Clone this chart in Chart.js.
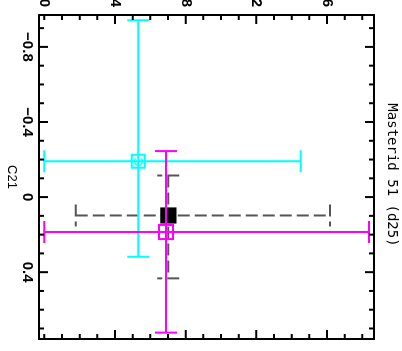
<!DOCTYPE html>
<html>
<head>
<meta charset="utf-8">
<title>Masterid 51 (d25)</title>
<script src="https://cdn.jsdelivr.net/npm/chart.js@4"></script>
<style>
    html, body { margin: 0; padding: 0; background: #fff; overflow: hidden; }
    /* the plot is drawn upright, then turned a quarter clockwise like the reference */
    #wrap {
        position: absolute; left: 0; top: 0; width: 351px; height: 402px;
        transform-origin: 0 0; transform: translate(402px, 0) rotate(90deg);
    }
</style>
</head>
<body>
<div id="wrap"><canvas id="chart" width="351" height="402"></canvas></div>
<script>
(function() {
    'use strict';

    // series: black, cyan, magenta
    const seriesNames = ['black', 'cyan', 'magenta'];
    const c21Values = [0.098, -0.191, 0.186];
    const c21Low = [-0.115, -0.942, -0.245];
    const c21High = [0.433, 0.318, 0.722];
    const yValues = [7.02, 5.32, 6.89];
    const yLow = [1.78, 0.0, 0.0];
    const yHigh = [16.17, 14.52, 18.37];

    const c21Ticks = [-0.8, -0.4, 0, 0.4];
    const yTicks = [0, 4, 8, 12, 16];

    const titleText = 'Masterid 51 (d25)';
    const xTitle = 'C21';

    // styles
    const markColors = ['#000000', '#00ffff', '#ff00ff'];
    const barColors = ['#555555', '#00ffff', '#ff00ff'];
    const barDashes = [[12, 5], [], []];
    const CAP = 11;
    const tickFont = { family: 'Liberation Sans', size: 15, weight: 'bold' };

    function formatC21(v) {
        if (Math.abs(v) < 1e-9) {
            return '0';
        }
        return (v < 0 ? '\u2212' : '') + Math.abs(v).toFixed(1);
    }

    function cyanMarker() {
        const c = document.createElement('canvas');
        c.width = 17;
        c.height = 17;
        const g = c.getContext('2d');
        g.strokeStyle = '#00ffff';
        g.lineWidth = 2;
        g.strokeRect(2, 2, 13, 13);
        g.lineWidth = 1.5;
        g.beginPath();
        g.arc(8.5, 8.5, 4, Math.PI + 0.7, Math.PI - 0.7);
        g.stroke();
        return c;
    }

    function drawErrorBars(chart, i) {
        const ctx = chart.ctx;
        const xs = chart.scales.x;
        const ys = chart.scales.y;
        const cx = xs.getPixelForValue(c21Values[i]);
        const cy = ys.getPixelForValue(yValues[i]);
        const x0 = xs.getPixelForValue(c21Low[i]);
        const x1 = xs.getPixelForValue(c21High[i]);
        const y0 = ys.getPixelForValue(yLow[i]);
        const y1 = ys.getPixelForValue(yHigh[i]);
        ctx.save();
        ctx.strokeStyle = barColors[i];
        ctx.lineWidth = 2;
        ctx.setLineDash(barDashes[i]);
        ctx.beginPath();
        ctx.moveTo(x0, cy); ctx.lineTo(x1, cy);
        ctx.moveTo(cx, y0); ctx.lineTo(cx, y1);
        ctx.moveTo(x0, cy - CAP); ctx.lineTo(x0, cy + CAP);
        ctx.moveTo(x1, cy - CAP); ctx.lineTo(x1, cy + CAP);
        ctx.moveTo(cx - CAP, y0); ctx.lineTo(cx + CAP, y0);
        ctx.moveTo(cx - CAP, y1); ctx.lineTo(cx + CAP, y1);
        ctx.stroke();
        ctx.restore();
    }

    function isOn(list, v) {
        return list.some((t) => Math.abs(t - v) < 1e-6);
    }

    const framePlugin = {
        id: 'frameAndBars',
        beforeDatasetDraw(chart, args) {
            drawErrorBars(chart, args.index);
        },
        afterDraw(chart) {
            const ctx = chart.ctx;
            const a = chart.chartArea;
            const xs = chart.scales.x;
            const ys = chart.scales.y;
            ctx.save();
            ctx.strokeStyle = '#000';
            ctx.lineWidth = 2;
            ctx.strokeRect(a.left, a.top, a.right - a.left, a.bottom - a.top);
            ctx.beginPath();
            for (let k = Math.ceil(xs.min * 10 - 1e-6); k <= Math.floor(xs.max * 10 + 1e-6); k += 1) {
                const v = k / 10;
                const px = xs.getPixelForValue(v);
                const len = isOn(c21Ticks, v) ? 9 : 5;
                ctx.moveTo(px, a.bottom); ctx.lineTo(px, a.bottom - len);
                ctx.moveTo(px, a.top); ctx.lineTo(px, a.top + len);
            }
            for (let k = Math.ceil(ys.min); k <= Math.floor(ys.max); k += 1) {
                const py = ys.getPixelForValue(k);
                const len = (k !== 0 && isOn(yTicks, k)) ? 9 : 5;
                ctx.moveTo(a.left, py); ctx.lineTo(a.left + len, py);
                ctx.moveTo(a.right, py); ctx.lineTo(a.right - len, py);
            }
            ctx.stroke();
            ctx.restore();
        }
    };

    const datasets = seriesNames.map((name, i) => ({
        label: name,
        data: [{ x: c21Values[i], y: yValues[i] }],
        order: 3 - i,
        pointStyle: i === 1 ? cyanMarker() : 'rect',
        pointRadius: 10,
        pointBorderWidth: 2,
        pointBorderColor: markColors[i],
        pointBackgroundColor: i === 0 ? '#000000' : 'rgba(0,0,0,0)',
        showLine: false
    }));

    new Chart(document.getElementById('chart'), {
        type: 'scatter',
        data: { datasets: datasets },
        plugins: [framePlugin],
        options: {
            responsive: false,
            animation: false,
            events: [],
            layout: { padding: { top: 0, right: 1, bottom: 0, left: 0 } },
            plugins: {
                legend: { display: false },
                tooltip: { enabled: false },
                title: {
                    display: true,
                    text: titleText,
                    color: '#000',
                    font: { family: 'DejaVu Sans Mono', size: 14, weight: 'normal', lineHeight: 1.2 },
                    padding: { top: 2, bottom: 9.2 }
                }
            },
            scales: {
                x: {
                    type: 'linear',
                    position: 'bottom',
                    min: -0.97,
                    max: 0.756,
                    bounds: 'data',
                    afterBuildTicks: (s) => { s.ticks = c21Ticks.map((v) => ({ value: v })); },
                    afterFit: (s) => { s.height = 39; },
                    grid: { display: false, drawTicks: false },
                    border: { display: false },
                    ticks: { autoSkip: false, maxRotation: 0, padding: 3, color: '#000', font: tickFont, callback: formatC21 },
                    title: {
                        display: true, text: xTitle, color: '#000',
                        font: { family: 'Liberation Sans', size: 13 },
                        padding: { top: 0, bottom: 4 }
                    }
                },
                y: {
                    type: 'linear',
                    position: 'left',
                    min: -0.3,
                    max: 18.66,
                    bounds: 'data',
                    afterBuildTicks: (s) => { s.ticks = yTicks.map((v) => ({ value: v })); },
                    afterFit: (s) => { s.width = 15; },
                    grid: { display: false, drawTicks: false },
                    border: { display: false },
                    ticks: { autoSkip: false, padding: 8, color: '#000', font: tickFont, callback: (v) => String(v) }
                }
            }
        }
    });
})();
</script>
</body>
</html>
